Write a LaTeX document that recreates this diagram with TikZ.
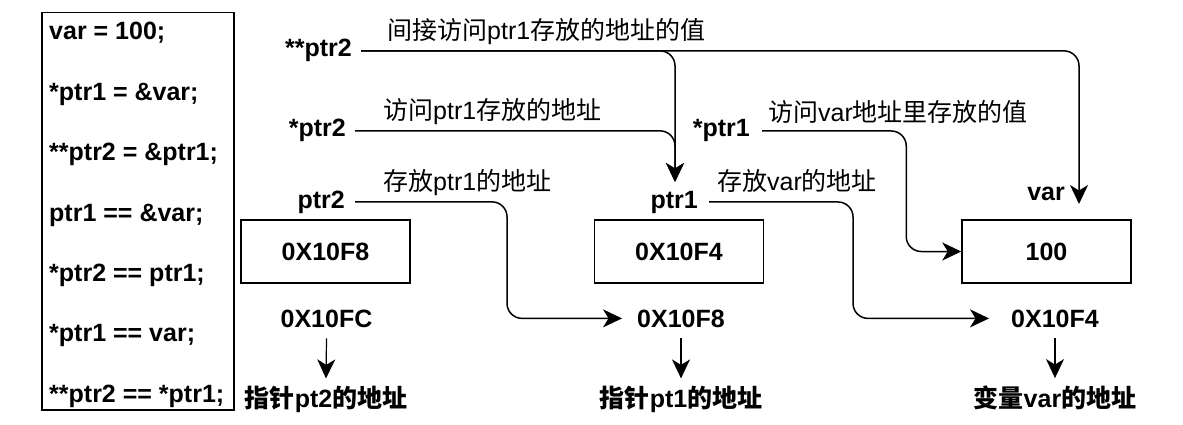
\documentclass[tikz,border=0pt]{standalone}
\usepackage{fontspec}
\setmainfont{Liberation Sans}
\newfontfamily\cjk{Noto Sans CJK SC}
\usetikzlibrary{arrows.meta}
\newcommand\zh[1]{{\cjk #1}}
\begin{document}
\begin{tikzpicture}[x=1pt,y=-1pt,
  txt/.style={inner sep=0pt, font=\fontsize{25}{30}\selectfont\bfseries},
  lbl/.style={inner sep=0pt, font=\fontsize{25}{30}\selectfont},
  box/.style={draw, line width=1.5pt, minimum width=169pt, minimum height=63pt, inner sep=0pt, font=\fontsize{25}{30}\selectfont\bfseries},
  tip/.style={-{Stealth[length=19pt,width=18pt,inset=5.5pt]}},
  conn/.style={line width=1.5pt, rounded corners=15pt, tip},
  sm/.style={line width=1.2pt, tip}]
\useasboundingbox (0,0) rectangle (1183,425);
% code box
\node[draw, line width=1.5pt, minimum width=192pt, minimum height=397pt, anchor=north west, inner sep=0pt] (code) at (41,12) {};
\node[txt, anchor=base west] (c1) at (49,40) {var = 100;};
\node[txt, anchor=base west] (c2) at (49,100.3) {*ptr1 = \&var;};
\node[txt, anchor=base west] (c3) at (49,160.7) {**ptr2 = \&ptr1;};
\node[txt, anchor=base west] (c4) at (49,221) {ptr1 == \&var;};
\node[txt, anchor=base west] (c5) at (49,281.3) {*ptr2 == ptr1;};
\node[txt, anchor=base west] (c6) at (49,341.7) {*ptr1 == var;};
\node[txt, anchor=base west] (c7) at (49,402) {**ptr2 == *ptr1;};
% boxes
\node[box] (b1) at (325.5,251.5) {0X10F8};
\node[box] (b2) at (679,251.5) {0X10F4};
\node[box] (b3) at (1046.5,251.5) {100};
% pointer labels
\node[txt, anchor=base east] (lpp2) at (352,57) {**ptr2};
\node[txt, anchor=base east] (lsp2) at (346,137) {*ptr2};
\node[txt, anchor=base east] (lp2) at (345,208) {ptr2};
\node[txt, anchor=base east] (lp1) at (698,208) {ptr1};
\node[txt, anchor=base east] (lsp1) at (750,137) {*ptr1};
\node[txt, anchor=base east] (lvar) at (1065,200) {var};
% addresses
\node[txt, anchor=base] (a1) at (326.5,327) {0X10FC};
\node[txt, anchor=base] (a2) at (681,327) {0X10F8};
\node[txt, anchor=base] (a3) at (1055,327) {0X10F4};
% bottom captions
\node[txt, anchor=base] (d1) at (326,407) {\zh{指针}pt2\zh{的地址}};
\node[txt, anchor=base] (d2) at (681,407) {\zh{指针}pt1\zh{的地址}};
\node[txt, anchor=base] (d3) at (1055,407) {\zh{变量}var\zh{的地址}};
% edge labels
\node[lbl, anchor=base west] (t1) at (387,40) {\zh{间接访问}ptr1\zh{存放的地址的值}};
\node[lbl, anchor=base west] (t2) at (383,120) {\zh{访问}ptr1\zh{存放的地址}};
\node[lbl, anchor=base west] (t3) at (383,190) {\zh{存放}ptr1\zh{的地址}};
\node[lbl, anchor=base west] (t4) at (768,122) {\zh{访问}var\zh{地址里存放的值}};
\node[lbl, anchor=base west] (t5) at (717,190) {\zh{存放}var\zh{的地址}};
% connector ends
\coordinate (p1tip) at (675,182);
\coordinate (vartip) at (1079,204);
% connectors
\draw[conn] ([xshift=9pt]lpp2.east) -| (vartip);
\draw[conn] ([xshift=9pt]lpp2.east) -| (p1tip);
\draw[conn] ([xshift=9pt]lsp2.east) -| (p1tip);
\draw[conn] ([xshift=10pt]lp2.east) -| ([xshift=-130pt]a2.west) -- ([xshift=-15pt]a2.west);
\draw[conn] ([xshift=11pt]lp1.east) -| ([xshift=-158pt]a3.west) -- ([xshift=-22pt]a3.west);
\draw[conn] ([xshift=12pt]lsp1.east) -| ([xshift=-55pt]b3.west) -- (b3.west);
\draw[sm] ([yshift=-11pt]a1.south) -- ([yshift=7pt]d1.north);
\draw[sm] ([yshift=-11pt]a2.south) -- ([yshift=7pt]d2.north);
\draw[sm] ([yshift=-11pt]a3.south) -- ([yshift=7pt]d3.north);
\end{tikzpicture}
\end{document}
